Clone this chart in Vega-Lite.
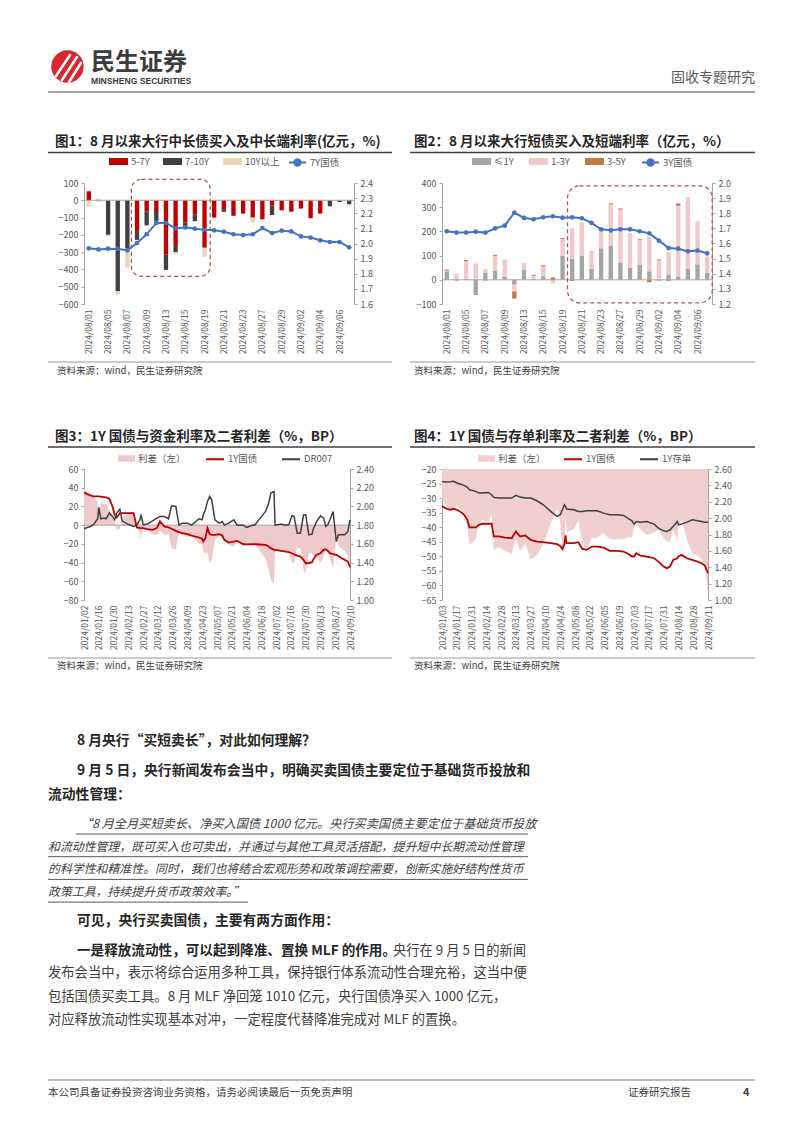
{
"$schema": "https://vega.github.io/schema/vega-lite/v6.json",
"background": "white",
"padding": 0,
"columns": 4,
"spacing": 0,
"bounds": "flush",
"align": "each",
"config": {
  "view": {"stroke": null},
  "font": "Noto Sans CJK SC",
  "axis": {"labelColor": "#595959", "labelFontSize": 9, "domainColor": "#A6A6A6", "tickColor": "#A6A6A6", "tickSize": 3, "grid": false, "labelPadding": 3, "labelFont": "Noto Sans CJK SC", "labelOverlap": false},
  "legend": {"labelColor": "#595959", "labelFontSize": 9.5, "labelFont": "Noto Sans CJK SC", "labelLimit": 0},
  "text": {"font": "Noto Sans CJK SC"}
},
"datasets": {
  "f1b": [
    {"d":"2024/08/01","s":"5-7Y","v":52,"k":1},{"d":"2024/08/01","s":"10Y以上","v":-35,"k":3},
    {"d":"2024/08/02","s":"7-10Y","v":3,"k":2},{"d":"2024/08/02","s":"10Y以上","v":-10,"k":3},
    {"d":"2024/08/05","s":"7-10Y","v":-200,"k":2},{"d":"2024/08/05","s":"10Y以上","v":-7,"k":3},
    {"d":"2024/08/06","s":"7-10Y","v":-525,"k":2},{"d":"2024/08/06","s":"10Y以上","v":-20,"k":3},
    {"d":"2024/08/07","s":"7-10Y","v":-278,"k":2},{"d":"2024/08/07","s":"10Y以上","v":-111,"k":3},
    {"d":"2024/08/08","s":"5-7Y","v":-177,"k":1},{"d":"2024/08/08","s":"7-10Y","v":-52,"k":2},
    {"d":"2024/08/09","s":"5-7Y","v":-65,"k":1},{"d":"2024/08/09","s":"7-10Y","v":-80,"k":2},
    {"d":"2024/08/12","s":"5-7Y","v":-62,"k":1},{"d":"2024/08/12","s":"7-10Y","v":-58,"k":2},
    {"d":"2024/08/13","s":"5-7Y","v":-315,"k":1},{"d":"2024/08/13","s":"7-10Y","v":-88,"k":2},
    {"d":"2024/08/14","s":"5-7Y","v":-264,"k":1},{"d":"2024/08/14","s":"7-10Y","v":-35,"k":2},{"d":"2024/08/14","s":"10Y以上","v":-13,"k":3},
    {"d":"2024/08/15","s":"5-7Y","v":-128,"k":1},{"d":"2024/08/15","s":"7-10Y","v":-35,"k":2},{"d":"2024/08/15","s":"10Y以上","v":-8,"k":3},
    {"d":"2024/08/16","s":"5-7Y","v":-81,"k":1},{"d":"2024/08/16","s":"7-10Y","v":-40,"k":2},
    {"d":"2024/08/19","s":"5-7Y","v":-270,"k":1},{"d":"2024/08/19","s":"7-10Y","v":-5,"k":2},{"d":"2024/08/19","s":"10Y以上","v":-53,"k":3},
    {"d":"2024/08/20","s":"5-7Y","v":-100,"k":1},
    {"d":"2024/08/21","s":"5-7Y","v":-55,"k":1},{"d":"2024/08/21","s":"7-10Y","v":-12,"k":2},
    {"d":"2024/08/22","s":"5-7Y","v":-90,"k":1},
    {"d":"2024/08/23","s":"5-7Y","v":-77,"k":1},
    {"d":"2024/08/26","s":"5-7Y","v":-100,"k":1},{"d":"2024/08/26","s":"10Y以上","v":-29,"k":3},
    {"d":"2024/08/27","s":"5-7Y","v":-110,"k":1},
    {"d":"2024/08/28","s":"5-7Y","v":-30,"k":1},{"d":"2024/08/28","s":"7-10Y","v":-55,"k":2},
    {"d":"2024/08/29","s":"5-7Y","v":-58,"k":1},
    {"d":"2024/08/30","s":"5-7Y","v":-66,"k":1},
    {"d":"2024/09/02","s":"5-7Y","v":-48,"k":1},
    {"d":"2024/09/03","s":"5-7Y","v":-104,"k":1},
    {"d":"2024/09/04","s":"5-7Y","v":-77,"k":1},
    {"d":"2024/09/05","s":"7-10Y","v":-35,"k":2},
    {"d":"2024/09/06","s":"7-10Y","v":-10,"k":2},
    {"d":"2024/09/09","s":"7-10Y","v":-23,"k":2},{"d":"2024/09/09","s":"10Y以上","v":-8,"k":3}
  ],
  "f1l": [
    {"d":"2024/08/01","r":1.968},{"d":"2024/08/02","r":1.961},{"d":"2024/08/05","r":1.966},{"d":"2024/08/06","r":1.964},
    {"d":"2024/08/07","r":1.955},{"d":"2024/08/08","r":2.003},{"d":"2024/08/09","r":2.061},{"d":"2024/08/12","r":2.136},
    {"d":"2024/08/13","r":2.136},{"d":"2024/08/14","r":2.100},{"d":"2024/08/15","r":2.107},{"d":"2024/08/16","r":2.098},
    {"d":"2024/08/19","r":2.091},{"d":"2024/08/20","r":2.087},{"d":"2024/08/21","r":2.078},{"d":"2024/08/22","r":2.061},
    {"d":"2024/08/23","r":2.056},{"d":"2024/08/26","r":2.061},{"d":"2024/08/27","r":2.102},{"d":"2024/08/28","r":2.069},
    {"d":"2024/08/29","r":2.085},{"d":"2024/08/30","r":2.080},{"d":"2024/09/02","r":2.047},{"d":"2024/09/03","r":2.039},
    {"d":"2024/09/04","r":2.021},{"d":"2024/09/05","r":2.010},{"d":"2024/09/06","r":2.010},{"d":"2024/09/09","r":1.975}
  ],
  "f2b": [
    {"d":"2024/08/01","s":"≤1Y","v":34,"k":1},{"d":"2024/08/01","s":"1-3Y","v":3,"k":2},{"d":"2024/08/01","s":"3-5Y","v":5,"k":3},
    {"d":"2024/08/02","s":"1-3Y","v":25,"k":2},{"d":"2024/08/02","s":"3-5Y","v":-3,"k":3},
    {"d":"2024/08/05","s":"≤1Y","v":5,"k":1},{"d":"2024/08/05","s":"1-3Y","v":72,"k":2},{"d":"2024/08/05","s":"3-5Y","v":5,"k":3},
    {"d":"2024/08/06","s":"≤1Y","v":-57,"k":1},{"d":"2024/08/06","s":"1-3Y","v":68,"k":2},{"d":"2024/08/06","s":"3-5Y","v":-5,"k":3},
    {"d":"2024/08/07","s":"≤1Y","v":28,"k":1},{"d":"2024/08/07","s":"1-3Y","v":17,"k":2},{"d":"2024/08/07","s":"3-5Y","v":-3,"k":3},
    {"d":"2024/08/08","s":"≤1Y","v":38,"k":1},{"d":"2024/08/08","s":"1-3Y","v":61,"k":2},{"d":"2024/08/08","s":"3-5Y","v":4,"k":3},
    {"d":"2024/08/09","s":"≤1Y","v":14,"k":1},{"d":"2024/08/09","s":"1-3Y","v":70,"k":2},
    {"d":"2024/08/12","s":"≤1Y","v":-20,"k":1},{"d":"2024/08/12","s":"1-3Y","v":-28,"k":2},{"d":"2024/08/12","s":"3-5Y","v":-30,"k":3},
    {"d":"2024/08/13","s":"≤1Y","v":43,"k":1},{"d":"2024/08/13","s":"1-3Y","v":26,"k":2},
    {"d":"2024/08/14","s":"≤1Y","v":3,"k":1},{"d":"2024/08/14","s":"1-3Y","v":14,"k":2},{"d":"2024/08/14","s":"3-5Y","v":4,"k":3},
    {"d":"2024/08/15","s":"≤1Y","v":15,"k":1},{"d":"2024/08/15","s":"1-3Y","v":40,"k":2},{"d":"2024/08/15","s":"3-5Y","v":5,"k":3},
    {"d":"2024/08/16","s":"≤1Y","v":-3,"k":1},{"d":"2024/08/16","s":"1-3Y","v":-12,"k":2},{"d":"2024/08/16","s":"3-5Y","v":10,"k":3},
    {"d":"2024/08/19","s":"≤1Y","v":100,"k":1},{"d":"2024/08/19","s":"1-3Y","v":68,"k":2},{"d":"2024/08/19","s":"3-5Y","v":4,"k":3},
    {"d":"2024/08/20","s":"≤1Y","v":87,"k":1},{"d":"2024/08/20","s":"1-3Y","v":125,"k":2},{"d":"2024/08/20","s":"3-5Y","v":-5,"k":3},
    {"d":"2024/08/21","s":"≤1Y","v":100,"k":1},{"d":"2024/08/21","s":"1-3Y","v":137,"k":2},
    {"d":"2024/08/22","s":"≤1Y","v":45,"k":1},{"d":"2024/08/22","s":"1-3Y","v":75,"k":2},
    {"d":"2024/08/23","s":"≤1Y","v":130,"k":1},{"d":"2024/08/23","s":"1-3Y","v":75,"k":2},
    {"d":"2024/08/26","s":"≤1Y","v":142,"k":1},{"d":"2024/08/26","s":"1-3Y","v":170,"k":2},{"d":"2024/08/26","s":"3-5Y","v":4,"k":3},
    {"d":"2024/08/27","s":"≤1Y","v":72,"k":1},{"d":"2024/08/27","s":"1-3Y","v":218,"k":2},{"d":"2024/08/27","s":"3-5Y","v":5,"k":3},
    {"d":"2024/08/28","s":"≤1Y","v":49,"k":1},{"d":"2024/08/28","s":"1-3Y","v":145,"k":2},
    {"d":"2024/08/29","s":"≤1Y","v":63,"k":1},{"d":"2024/08/29","s":"1-3Y","v":101,"k":2},{"d":"2024/08/29","s":"3-5Y","v":4,"k":3},
    {"d":"2024/08/30","s":"≤1Y","v":35,"k":1},{"d":"2024/08/30","s":"1-3Y","v":143,"k":2},{"d":"2024/08/30","s":"3-5Y","v":-10,"k":3},
    {"d":"2024/09/02","s":"≤1Y","v":-4,"k":1},{"d":"2024/09/02","s":"1-3Y","v":80,"k":2},{"d":"2024/09/02","s":"3-5Y","v":4,"k":3},
    {"d":"2024/09/03","s":"≤1Y","v":22,"k":1},{"d":"2024/09/03","s":"1-3Y","v":94,"k":2},{"d":"2024/09/03","s":"3-5Y","v":-4,"k":3},
    {"d":"2024/09/04","s":"≤1Y","v":12,"k":1},{"d":"2024/09/04","s":"1-3Y","v":294,"k":2},{"d":"2024/09/04","s":"3-5Y","v":10,"k":3},
    {"d":"2024/09/05","s":"≤1Y","v":47,"k":1},{"d":"2024/09/05","s":"1-3Y","v":295,"k":2},
    {"d":"2024/09/06","s":"≤1Y","v":64,"k":1},{"d":"2024/09/06","s":"1-3Y","v":177,"k":2},
    {"d":"2024/09/09","s":"≤1Y","v":28,"k":1},{"d":"2024/09/09","s":"1-3Y","v":68,"k":2}
  ],
  "f2l": [
    {"d":"2024/08/01","r":1.681},{"d":"2024/08/02","r":1.672},{"d":"2024/08/05","r":1.672},{"d":"2024/08/06","r":1.678},
    {"d":"2024/08/07","r":1.672},{"d":"2024/08/08","r":1.700},{"d":"2024/08/09","r":1.718},{"d":"2024/08/12","r":1.804},
    {"d":"2024/08/13","r":1.769},{"d":"2024/08/14","r":1.760},{"d":"2024/08/15","r":1.773},{"d":"2024/08/16","r":1.780},
    {"d":"2024/08/19","r":1.771},{"d":"2024/08/20","r":1.773},{"d":"2024/08/21","r":1.767},{"d":"2024/08/22","r":1.736},
    {"d":"2024/08/23","r":1.694},{"d":"2024/08/26","r":1.687},{"d":"2024/08/27","r":1.694},{"d":"2024/08/28","r":1.694},
    {"d":"2024/08/29","r":1.681},{"d":"2024/08/30","r":1.667},{"d":"2024/09/02","r":1.619},{"d":"2024/09/03","r":1.570},
    {"d":"2024/09/04","r":1.566},{"d":"2024/09/05","r":1.548},{"d":"2024/09/06","r":1.553},{"d":"2024/09/09","r":1.535}
  ],
  "f3": [
    {"d":"2024-01-02","a":2.150,"b":1.761,"sp":38.9},{"d":"2024-01-05","a":2.132,"b":1.775,"sp":35.7},
    {"d":"2024-01-08","a":2.118,"b":1.786,"sp":33.2},{"d":"2024-01-11","a":2.107,"b":1.804,"sp":30.3},
    {"d":"2024-01-15","a":2.107,"b":1.868,"sp":23.9},{"d":"2024-01-16","a":2.107,"b":1.989,"sp":11.8},
    {"d":"2024-01-18","a":2.104,"b":1.868,"sp":23.6},{"d":"2024-01-21","a":2.100,"b":1.875,"sp":22.5},
    {"d":"2024-01-23","a":2.096,"b":1.868,"sp":22.8},{"d":"2024-01-26","a":2.082,"b":1.929,"sp":15.3},
    {"d":"2024-01-29","a":2.000,"b":1.893,"sp":10.7},{"d":"2024-01-31","a":1.911,"b":1.857,"sp":5.4},
    {"d":"2024-02-02","a":1.882,"b":1.929,"sp":-4.7},{"d":"2024-02-05","a":1.929,"b":1.971,"sp":-4.2},
    {"d":"2024-02-07","a":1.929,"b":1.846,"sp":8.3},{"d":"2024-02-12","a":1.929,"b":1.814,"sp":11.5},
    {"d":"2024-02-18","a":1.929,"b":1.786,"sp":14.3},{"d":"2024-02-21","a":1.775,"b":1.800,"sp":-2.5},
    {"d":"2024-02-24","a":1.768,"b":1.857,"sp":-8.9},{"d":"2024-02-25","a":1.768,"b":1.911,"sp":-14.3},
    {"d":"2024-02-27","a":1.768,"b":1.804,"sp":-3.6},{"d":"2024-03-02","a":1.757,"b":1.811,"sp":-5.4},
    {"d":"2024-03-07","a":1.750,"b":1.846,"sp":-9.6},{"d":"2024-03-11","a":1.768,"b":1.875,"sp":-10.7},
    {"d":"2024-03-14","a":1.839,"b":1.893,"sp":-5.4},{"d":"2024-03-18","a":1.786,"b":1.893,"sp":-10.7},
    {"d":"2024-03-22","a":1.775,"b":1.868,"sp":-9.3},{"d":"2024-03-25","a":1.761,"b":2.007,"sp":-24.6},
    {"d":"2024-03-29","a":1.739,"b":2.000,"sp":-26.1},{"d":"2024-04-01","a":1.725,"b":1.800,"sp":-7.5},
    {"d":"2024-04-04","a":1.714,"b":1.821,"sp":-10.7},{"d":"2024-04-09","a":1.704,"b":1.821,"sp":-11.7},
    {"d":"2024-04-13","a":1.689,"b":1.800,"sp":-11.1},{"d":"2024-04-20","a":1.668,"b":1.868,"sp":-20.0},
    {"d":"2024-04-23","a":1.654,"b":1.857,"sp":-20.3},{"d":"2024-04-24","a":1.625,"b":1.911,"sp":-28.6},
    {"d":"2024-04-26","a":1.661,"b":1.964,"sp":-30.3},{"d":"2024-04-28","a":1.768,"b":2.054,"sp":-28.6},
    {"d":"2024-04-30","a":1.704,"b":2.107,"sp":-40.3},{"d":"2024-05-02","a":1.696,"b":2.071,"sp":-37.5},
    {"d":"2024-05-05","a":1.696,"b":1.857,"sp":-16.1},{"d":"2024-05-09","a":1.704,"b":1.821,"sp":-11.7},
    {"d":"2024-05-12","a":1.689,"b":1.839,"sp":-15.0},{"d":"2024-05-14","a":1.643,"b":1.800,"sp":-15.7},
    {"d":"2024-05-18","a":1.614,"b":1.821,"sp":-20.7},{"d":"2024-05-23","a":1.625,"b":1.857,"sp":-23.2},
    {"d":"2024-05-26","a":1.632,"b":1.800,"sp":-16.8},{"d":"2024-06-01","a":1.596,"b":1.800,"sp":-20.4},
    {"d":"2024-06-04","a":1.596,"b":1.775,"sp":-17.9},{"d":"2024-06-09","a":1.596,"b":1.796,"sp":-20.0},
    {"d":"2024-06-12","a":1.596,"b":1.804,"sp":-20.8},{"d":"2024-06-17","a":1.593,"b":1.875,"sp":-28.2},
    {"d":"2024-06-22","a":1.589,"b":1.946,"sp":-35.7},{"d":"2024-06-25","a":1.571,"b":2.036,"sp":-46.5},
    {"d":"2024-06-27","a":1.554,"b":2.143,"sp":-58.9},{"d":"2024-06-30","a":1.536,"b":2.161,"sp":-62.5},
    {"d":"2024-07-01","a":1.536,"b":1.800,"sp":-26.4},{"d":"2024-07-07","a":1.525,"b":1.811,"sp":-28.6},
    {"d":"2024-07-11","a":1.518,"b":1.800,"sp":-28.2},{"d":"2024-07-14","a":1.511,"b":1.804,"sp":-29.3},
    {"d":"2024-07-17","a":1.500,"b":1.900,"sp":-40.0},{"d":"2024-07-19","a":1.489,"b":1.893,"sp":-40.4},
    {"d":"2024-07-22","a":1.475,"b":1.714,"sp":-23.9},{"d":"2024-07-25","a":1.464,"b":1.714,"sp":-25.0},
    {"d":"2024-07-28","a":1.429,"b":1.911,"sp":-48.2},{"d":"2024-07-30","a":1.393,"b":1.911,"sp":-51.8},
    {"d":"2024-08-02","a":1.393,"b":1.696,"sp":-30.3},{"d":"2024-08-05","a":1.404,"b":1.704,"sp":-30.0},
    {"d":"2024-08-06","a":1.429,"b":1.750,"sp":-32.1},{"d":"2024-08-09","a":1.482,"b":1.829,"sp":-34.7},
    {"d":"2024-08-13","a":1.500,"b":1.900,"sp":-40.0},{"d":"2024-08-16","a":1.536,"b":1.875,"sp":-33.9},
    {"d":"2024-08-18","a":1.543,"b":1.786,"sp":-24.3},{"d":"2024-08-20","a":1.525,"b":1.804,"sp":-27.9},
    {"d":"2024-08-22","a":1.500,"b":1.857,"sp":-35.7},{"d":"2024-08-25","a":1.489,"b":1.946,"sp":-45.7},
    {"d":"2024-08-28","a":1.482,"b":1.625,"sp":-14.3},{"d":"2024-08-30","a":1.471,"b":1.696,"sp":-22.5},
    {"d":"2024-09-02","a":1.446,"b":1.696,"sp":-25.0},{"d":"2024-09-05","a":1.429,"b":1.696,"sp":-26.7},
    {"d":"2024-09-08","a":1.411,"b":1.732,"sp":-32.1},{"d":"2024-09-10","a":1.350,"b":1.857,"sp":-50.7}
  ],
  "f4": [
    {"d":"2024-01-03","a":2.151,"b":2.449,"sp":-29.8},{"d":"2024-01-06","a":2.122,"b":2.441,"sp":-31.9},
    {"d":"2024-01-11","a":2.102,"b":2.445,"sp":-34.3},{"d":"2024-01-14","a":2.114,"b":2.449,"sp":-33.5},
    {"d":"2024-01-17","a":2.102,"b":2.429,"sp":-32.7},{"d":"2024-01-20","a":2.082,"b":2.416,"sp":-33.4},
    {"d":"2024-01-24","a":2.041,"b":2.400,"sp":-35.9},{"d":"2024-01-27","a":1.980,"b":2.376,"sp":-39.6},
    {"d":"2024-01-29","a":1.886,"b":2.347,"sp":-46.1},{"d":"2024-02-04","a":1.886,"b":2.327,"sp":-44.1},
    {"d":"2024-02-07","a":1.918,"b":2.306,"sp":-38.8},{"d":"2024-02-10","a":1.931,"b":2.306,"sp":-37.5},
    {"d":"2024-02-16","a":1.931,"b":2.314,"sp":-38.3},{"d":"2024-02-19","a":1.931,"b":2.286,"sp":-35.5},
    {"d":"2024-02-21","a":1.776,"b":2.253,"sp":-47.7},{"d":"2024-02-26","a":1.776,"b":2.245,"sp":-46.9},
    {"d":"2024-03-03","a":1.763,"b":2.245,"sp":-48.2},{"d":"2024-03-09","a":1.755,"b":2.245,"sp":-49.0},
    {"d":"2024-03-13","a":1.837,"b":2.278,"sp":-44.1},{"d":"2024-03-17","a":1.776,"b":2.257,"sp":-48.1},
    {"d":"2024-03-22","a":1.788,"b":2.245,"sp":-45.7},{"d":"2024-03-27","a":1.735,"b":2.245,"sp":-51.0},
    {"d":"2024-04-02","a":1.714,"b":2.212,"sp":-49.8},{"d":"2024-04-08","a":1.706,"b":2.163,"sp":-45.7},
    {"d":"2024-04-15","a":1.694,"b":2.082,"sp":-38.8},{"d":"2024-04-21","a":1.682,"b":2.020,"sp":-33.8},
    {"d":"2024-04-24","a":1.661,"b":2.041,"sp":-38.0},{"d":"2024-04-26","a":1.624,"b":2.102,"sp":-47.8},
    {"d":"2024-04-28","a":1.682,"b":2.163,"sp":-48.1},{"d":"2024-04-29","a":1.788,"b":2.143,"sp":-35.5},
    {"d":"2024-04-30","a":1.694,"b":2.110,"sp":-41.6},{"d":"2024-05-07","a":1.694,"b":2.102,"sp":-40.8},
    {"d":"2024-05-11","a":1.706,"b":2.082,"sp":-37.6},{"d":"2024-05-15","a":1.624,"b":2.082,"sp":-45.8},
    {"d":"2024-05-19","a":1.612,"b":2.090,"sp":-47.8},{"d":"2024-05-24","a":1.653,"b":2.090,"sp":-43.7},
    {"d":"2024-05-29","a":1.653,"b":2.090,"sp":-43.7},{"d":"2024-06-04","a":1.641,"b":2.061,"sp":-42.0},
    {"d":"2024-06-10","a":1.600,"b":2.041,"sp":-44.1},{"d":"2024-06-17","a":1.600,"b":2.041,"sp":-44.1},
    {"d":"2024-06-23","a":1.592,"b":2.033,"sp":-44.1},{"d":"2024-06-28","a":1.559,"b":1.992,"sp":-43.3},
    {"d":"2024-07-01","a":1.531,"b":1.967,"sp":-43.6},{"d":"2024-07-03","a":1.531,"b":1.927,"sp":-39.6},
    {"d":"2024-07-05","a":1.571,"b":1.959,"sp":-38.8},{"d":"2024-07-09","a":1.543,"b":1.951,"sp":-40.8},
    {"d":"2024-07-15","a":1.531,"b":1.959,"sp":-42.8},{"d":"2024-07-22","a":1.510,"b":1.927,"sp":-41.7},
    {"d":"2024-07-26","a":1.469,"b":1.878,"sp":-40.9},{"d":"2024-07-31","a":1.408,"b":1.845,"sp":-43.7},
    {"d":"2024-08-03","a":1.388,"b":1.837,"sp":-44.9},{"d":"2024-08-06","a":1.408,"b":1.857,"sp":-44.9},
    {"d":"2024-08-09","a":1.490,"b":1.898,"sp":-40.8},{"d":"2024-08-13","a":1.510,"b":1.959,"sp":-44.9},
    {"d":"2024-08-14","a":1.531,"b":1.918,"sp":-38.7},{"d":"2024-08-17","a":1.551,"b":1.927,"sp":-37.6},
    {"d":"2024-08-22","a":1.510,"b":1.951,"sp":-44.1},{"d":"2024-08-27","a":1.490,"b":1.980,"sp":-49.0},
    {"d":"2024-09-01","a":1.469,"b":1.967,"sp":-49.8},{"d":"2024-09-05","a":1.449,"b":1.959,"sp":-51.0},
    {"d":"2024-09-08","a":1.420,"b":1.951,"sp":-53.1},{"d":"2024-09-11","a":1.327,"b":1.951,"sp":-62.4}
  ]
},
"concat": [
  {
    "width": 84, "height": 183,
    "layer": [
      {"data": {"values": [{}]}, "mark": {"type": "point", "filled": true, "color": "#D9272E", "opacity": 1, "size": 1050}, "encoding": {"x": {"value": 67.5}, "y": {"value": 66.5}}},
      {"data": {"values": [{}]}, "mark": {"type": "rule", "color": "white", "strokeWidth": 2.5, "strokeCap": "round"}, "encoding": {"x": {"value": 56}, "y": {"value": 76}, "x2": {"value": 70}, "y2": {"value": 55}}},
      {"data": {"values": [{}]}, "mark": {"type": "rule", "color": "white", "strokeWidth": 2.5, "strokeCap": "round"}, "encoding": {"x": {"value": 62}, "y": {"value": 80}, "x2": {"value": 77}, "y2": {"value": 57}}},
      {"data": {"values": [{}]}, "mark": {"type": "rule", "color": "white", "strokeWidth": 2.5, "strokeCap": "round"}, "encoding": {"x": {"value": 69}, "y": {"value": 82}, "x2": {"value": 81}, "y2": {"value": 63}}},
      {"data": {"values": [{"t": "民生证券"}]}, "mark": {"type": "text", "align": "left", "baseline": "middle", "fontSize": 24, "fontWeight": "bold", "color": "#3C3C3C"}, "encoding": {"text": {"field": "t"}, "x": {"value": 91}, "y": {"value": 63}}},
      {"data": {"values": [{"t": "MINSHENG SECURITIES"}]}, "mark": {"type": "text", "align": "left", "baseline": "middle", "fontSize": 8.6, "fontWeight": "bold", "font": "Liberation Sans", "color": "#3C3C3C"}, "encoding": {"text": {"field": "t"}, "x": {"value": 91}, "y": {"value": 81}}},
      {"data": {"values": [{"t": "固收专题研究"}]}, "mark": {"type": "text", "align": "right", "baseline": "middle", "fontSize": 14, "color": "#595959"}, "encoding": {"text": {"field": "t"}, "x": {"value": 755}, "y": {"value": 77.5}}},
      {"data": {"values": [{}]}, "mark": {"type": "rule", "color": "#A6A6A6", "strokeWidth": 2}, "encoding": {"x": {"value": 48}, "x2": {"value": 755}, "y": {"value": 92}}},
      {"data": {"values": [{"t": "图1：8 月以来大行中长债买入及中长端利率(亿元，%)"}]}, "mark": {"type": "text", "align": "left", "baseline": "middle", "fontSize": 13.5, "fontWeight": "bold", "color": "#262626"}, "encoding": {"text": {"field": "t"}, "x": {"value": 55}, "y": {"value": 142}}},
      {"data": {"values": [{"t": "图2：8 月以来大行短债买入及短端利率（亿元，%）"}]}, "mark": {"type": "text", "align": "left", "baseline": "middle", "fontSize": 13.5, "fontWeight": "bold", "color": "#262626"}, "encoding": {"text": {"field": "t"}, "x": {"value": 414}, "y": {"value": 142}}},
      {"data": {"values": [{}]}, "mark": {"type": "rule", "color": "#3F3F3F", "strokeWidth": 1.5}, "encoding": {"x": {"value": 48}, "x2": {"value": 392}, "y": {"value": 152.5}}},
      {"data": {"values": [{}]}, "mark": {"type": "rule", "color": "#3F3F3F", "strokeWidth": 1.5}, "encoding": {"x": {"value": 410}, "x2": {"value": 755}, "y": {"value": 152.5}}}
    ]
  },
  {"width": 1, "height": 1, "data": {"values": [{"t": ""}]}, "mark": {"type": "text", "fontSize": 0}, "encoding": {"text": {"field": "t"}}},
  {"width": 1, "height": 1, "data": {"values": [{"t": ""}]}, "mark": {"type": "text", "fontSize": 0}, "encoding": {"text": {"field": "t"}}},
  {"width": 1, "height": 1, "data": {"values": [{"t": ""}]}, "mark": {"type": "text", "fontSize": 0}, "encoding": {"text": {"field": "t"}}},

  {"width": 84, "height": 1, "data": {"values": [{"t": ""}]}, "mark": {"type": "text", "fontSize": 0}, "encoding": {"text": {"field": "t"}}},
  {
    "width": 270, "height": 121,
    "resolve": {"scale": {"y": "independent", "color": "independent"}},
    "layer": [
      {"layer": [
        {"data": {"name": "f1b"}, "mark": {"type": "bar"},
         "encoding": {
           "x": {"field": "d", "type": "ordinal", "title": null, "scale": {"paddingInner": 0.55, "paddingOuter": 0.275},
                 "axis": {"values": ["2024/08/01","2024/08/05","2024/08/07","2024/08/09","2024/08/13","2024/08/15","2024/08/19","2024/08/21","2024/08/23","2024/08/27","2024/08/29","2024/09/02","2024/09/04","2024/09/06"], "labelAngle": -90, "domain": false, "ticks": false, "labelFontSize": 8.5, "labelPadding": 5, "labelOverlap": false}},
           "y": {"field": "v", "type": "quantitative", "stack": "zero", "title": null, "scale": {"domain": [-600, 100], "nice": false}, "axis": {"orient": "left", "values": [-600,-500,-400,-300,-200,-100,0,100], "labelOverlap": false}},
           "color": {"field": "s", "type": "nominal", "scale": {"domain": ["5-7Y","7-10Y","10Y以上"], "range": ["#C00000","#404040","#E9D6B4"]},
                     "legend": {"orient": "none", "legendX": 25, "legendY": -31, "direction": "horizontal", "title": null, "symbolType": "M-1,-0.37L1,-0.37L1,0.37L-1,0.37Z", "symbolSize": 361, "symbolStrokeWidth": 0, "columnPadding": 13, "labelOffset": 3}},
           "order": {"field": "k", "type": "quantitative"}
         }},
        {"data": {"values": [{}]}, "mark": {"type": "rule", "color": "#A6A6A6", "strokeWidth": 1},
         "encoding": {"y": {"datum": 0, "type": "quantitative", "title": null, "axis": {"orient": "left", "values": [-600,-500,-400,-300,-200,-100,0,100], "labelOverlap": false}}}},
        {"data": {"values": [{}]}, "mark": {"type": "rect", "filled": false, "stroke": "#B0504E", "strokeWidth": 1.2, "strokeDash": [4, 3], "cornerRadius": 10, "xOffset": 4, "x2Offset": -4},
         "encoding": {
           "x": {"datum": "2024/08/07", "type": "ordinal", "title": null, "axis": {"values": ["2024/08/01","2024/08/05","2024/08/07","2024/08/09","2024/08/13","2024/08/15","2024/08/19","2024/08/21","2024/08/23","2024/08/27","2024/08/29","2024/09/02","2024/09/04","2024/09/06"], "labelAngle": -90, "domain": false, "ticks": false, "labelFontSize": 8.5, "labelPadding": 5, "labelOverlap": false}},
           "x2": {"datum": "2024/08/20"},
           "y": {"datum": 121, "type": "quantitative", "title": null, "axis": {"orient": "left", "values": [-600,-500,-400,-300,-200,-100,0,100], "labelOverlap": false}},
           "y2": {"datum": -440}}}
      ]},
      {"data": {"name": "f1l"}, "mark": {"type": "line", "strokeWidth": 2, "point": {"filled": true, "size": 22}},
       "encoding": {
         "x": {"field": "d", "type": "ordinal", "title": null, "axis": {"values": ["2024/08/01","2024/08/05","2024/08/07","2024/08/09","2024/08/13","2024/08/15","2024/08/19","2024/08/21","2024/08/23","2024/08/27","2024/08/29","2024/09/02","2024/09/04","2024/09/06"], "labelAngle": -90, "domain": false, "ticks": false, "labelFontSize": 8.5, "labelPadding": 5, "labelOverlap": false}},
         "y": {"field": "r", "type": "quantitative", "title": null, "scale": {"domain": [1.6, 2.4], "nice": false, "zero": false}, "axis": {"orient": "right", "values": [1.6,1.7,1.8,1.9,2.0,2.1,2.2,2.3,2.4], "format": ".1f", "labelOverlap": false}},
         "color": {"datum": "7Y国债", "type": "nominal", "scale": {"range": ["#4472C4"]},
                   "legend": {"orient": "none", "legendX": 204, "legendY": -30, "direction": "horizontal", "title": null, "symbolType": "M-1,0L1,0M0.38,0A0.38,0.38,0,1,1,-0.38,0A0.38,0.38,0,1,1,0.38,0", "symbolSize": 289, "symbolStrokeWidth": 2, "labelOffset": 3, "encode": {"symbols": {"update": {"fill": {"value": "#4472C4"}, "stroke": {"value": "#4472C4"}}}}}}
       }}
    ]
  },
  {"width": 88, "height": 1, "data": {"values": [{"t": ""}]}, "mark": {"type": "text", "fontSize": 0}, "encoding": {"text": {"field": "t"}}},
  {
    "width": 270, "height": 121,
    "resolve": {"scale": {"y": "independent", "color": "independent"}},
    "layer": [
      {"layer": [
        {"data": {"name": "f2b"}, "mark": {"type": "bar"},
         "encoding": {
           "x": {"field": "d", "type": "ordinal", "title": null, "scale": {"paddingInner": 0.55, "paddingOuter": 0.275},
                 "axis": {"values": ["2024/08/01","2024/08/05","2024/08/07","2024/08/09","2024/08/13","2024/08/15","2024/08/19","2024/08/21","2024/08/23","2024/08/27","2024/08/29","2024/09/02","2024/09/04","2024/09/06"], "labelAngle": -90, "domain": false, "ticks": false, "labelFontSize": 8.5, "labelPadding": 5, "labelOverlap": false}},
           "y": {"field": "v", "type": "quantitative", "stack": "zero", "title": null, "scale": {"domain": [-100, 400], "nice": false}, "axis": {"orient": "left", "values": [-100,0,100,200,300,400], "labelOverlap": false}},
           "color": {"field": "s", "type": "nominal", "scale": {"domain": ["≤1Y","1-3Y","3-5Y"], "range": ["#A5A5A5","#F2C8C8","#C27A45"]},
                     "legend": {"orient": "none", "legendX": 30, "legendY": -31, "direction": "horizontal", "title": null, "symbolType": "M-1,-0.37L1,-0.37L1,0.37L-1,0.37Z", "symbolSize": 361, "symbolStrokeWidth": 0, "columnPadding": 15, "labelOffset": 3}},
           "order": {"field": "k", "type": "quantitative"}
         }},
        {"data": {"values": [{}]}, "mark": {"type": "rule", "color": "#A6A6A6", "strokeWidth": 1},
         "encoding": {"y": {"datum": 0, "type": "quantitative", "title": null, "axis": {"orient": "left", "values": [-100,0,100,200,300,400], "labelOverlap": false}}}},
        {"data": {"values": [{}]}, "mark": {"type": "rect", "filled": false, "stroke": "#B0504E", "strokeWidth": 1.2, "strokeDash": [4, 3], "cornerRadius": 12, "xOffset": 5, "x2Offset": 5},
         "encoding": {
           "x": {"datum": "2024/08/19", "type": "ordinal", "title": null, "axis": {"values": ["2024/08/01","2024/08/05","2024/08/07","2024/08/09","2024/08/13","2024/08/15","2024/08/19","2024/08/21","2024/08/23","2024/08/27","2024/08/29","2024/09/02","2024/09/04","2024/09/06"], "labelAngle": -90, "domain": false, "ticks": false, "labelFontSize": 8.5, "labelPadding": 5, "labelOverlap": false}},
           "x2": {"datum": "2024/09/09"},
           "y": {"datum": 388, "type": "quantitative", "title": null, "axis": {"orient": "left", "values": [-100,0,100,200,300,400], "labelOverlap": false}},
           "y2": {"datum": -95}}}
      ]},
      {"data": {"name": "f2l"}, "mark": {"type": "line", "strokeWidth": 2, "point": {"filled": true, "size": 22}},
       "encoding": {
         "x": {"field": "d", "type": "ordinal", "title": null, "axis": {"values": ["2024/08/01","2024/08/05","2024/08/07","2024/08/09","2024/08/13","2024/08/15","2024/08/19","2024/08/21","2024/08/23","2024/08/27","2024/08/29","2024/09/02","2024/09/04","2024/09/06"], "labelAngle": -90, "domain": false, "ticks": false, "labelFontSize": 8.5, "labelPadding": 5, "labelOverlap": false}},
         "y": {"field": "r", "type": "quantitative", "title": null, "scale": {"domain": [1.2, 2.0], "nice": false, "zero": false}, "axis": {"orient": "right", "values": [1.2,1.3,1.4,1.5,1.6,1.7,1.8,1.9,2.0], "format": ".1f", "labelOverlap": false}},
         "color": {"datum": "3Y国债", "type": "nominal", "scale": {"range": ["#4472C4"]},
                   "legend": {"orient": "none", "legendX": 199, "legendY": -30, "direction": "horizontal", "title": null, "symbolType": "M-1,0L1,0M0.38,0A0.38,0.38,0,1,1,-0.38,0A0.38,0.38,0,1,1,0.38,0", "symbolSize": 289, "symbolStrokeWidth": 2, "labelOffset": 3, "encode": {"symbols": {"update": {"fill": {"value": "#4472C4"}, "stroke": {"value": "#4472C4"}}}}}}
       }}
    ]
  },

  {
    "width": 84, "height": 165,
    "layer": [
      {"data": {"values": [{}]}, "mark": {"type": "rule", "color": "#7F7F7F", "strokeWidth": 0.8}, "encoding": {"x": {"value": 48}, "x2": {"value": 392}, "y": {"value": 58}}},
      {"data": {"values": [{}]}, "mark": {"type": "rule", "color": "#7F7F7F", "strokeWidth": 0.8}, "encoding": {"x": {"value": 410}, "x2": {"value": 755}, "y": {"value": 58}}},
      {"data": {"values": [{"t": "资料来源：wind，民生证券研究院"}]}, "mark": {"type": "text", "align": "left", "baseline": "middle", "fontSize": 9.5, "color": "#404040"}, "encoding": {"text": {"field": "t"}, "x": {"value": 57}, "y": {"value": 67}}},
      {"data": {"values": [{"t": "资料来源：wind，民生证券研究院"}]}, "mark": {"type": "text", "align": "left", "baseline": "middle", "fontSize": 9.5, "color": "#404040"}, "encoding": {"text": {"field": "t"}, "x": {"value": 414}, "y": {"value": 67}}},
      {"data": {"values": [{"t": "图3：1Y 国债与资金利率及二者利差（%，BP）"}]}, "mark": {"type": "text", "align": "left", "baseline": "middle", "fontSize": 13.5, "fontWeight": "bold", "color": "#262626"}, "encoding": {"text": {"field": "t"}, "x": {"value": 55}, "y": {"value": 133}}},
      {"data": {"values": [{"t": "图4：1Y 国债与存单利率及二者利差（%，BP）"}]}, "mark": {"type": "text", "align": "left", "baseline": "middle", "fontSize": 13.5, "fontWeight": "bold", "color": "#262626"}, "encoding": {"text": {"field": "t"}, "x": {"value": 414}, "y": {"value": 133}}},
      {"data": {"values": [{}]}, "mark": {"type": "rule", "color": "#3F3F3F", "strokeWidth": 1.5}, "encoding": {"x": {"value": 48}, "x2": {"value": 392}, "y": {"value": 143}}},
      {"data": {"values": [{}]}, "mark": {"type": "rule", "color": "#3F3F3F", "strokeWidth": 1.5}, "encoding": {"x": {"value": 410}, "x2": {"value": 755}, "y": {"value": 143}}}
    ]
  },
  {"width": 1, "height": 1, "data": {"values": [{"t": ""}]}, "mark": {"type": "text", "fontSize": 0}, "encoding": {"text": {"field": "t"}}},
  {"width": 1, "height": 1, "data": {"values": [{"t": ""}]}, "mark": {"type": "text", "fontSize": 0}, "encoding": {"text": {"field": "t"}}},
  {"width": 1, "height": 1, "data": {"values": [{"t": ""}]}, "mark": {"type": "text", "fontSize": 0}, "encoding": {"text": {"field": "t"}}},

  {"width": 84, "height": 1, "data": {"values": [{"t": ""}]}, "mark": {"type": "text", "fontSize": 0}, "encoding": {"text": {"field": "t"}}},
  {
    "width": 266, "height": 131,
    "resolve": {"scale": {"y": "independent", "color": "independent"}},
    "layer": [
      {"layer": [
        {"data": {"name": "f3"}, "mark": {"type": "area", "clip": true},
         "encoding": {
           "x": {"field": "d", "type": "temporal", "title": null,
                 "scale": {"type": "utc", "domain": [{"year":2024,"month":1,"date":2,"utc":true},{"year":2024,"month":9,"date":10,"utc":true}], "nice": false},
                 "axis": {"values": [{"year":2024,"month":1,"date":2,"utc":true},{"year":2024,"month":1,"date":16,"utc":true},{"year":2024,"month":1,"date":30,"utc":true},{"year":2024,"month":2,"date":13,"utc":true},{"year":2024,"month":2,"date":27,"utc":true},{"year":2024,"month":3,"date":12,"utc":true},{"year":2024,"month":3,"date":26,"utc":true},{"year":2024,"month":4,"date":9,"utc":true},{"year":2024,"month":4,"date":23,"utc":true},{"year":2024,"month":5,"date":7,"utc":true},{"year":2024,"month":5,"date":21,"utc":true},{"year":2024,"month":6,"date":4,"utc":true},{"year":2024,"month":6,"date":18,"utc":true},{"year":2024,"month":7,"date":2,"utc":true},{"year":2024,"month":7,"date":16,"utc":true},{"year":2024,"month":7,"date":30,"utc":true},{"year":2024,"month":8,"date":13,"utc":true},{"year":2024,"month":8,"date":27,"utc":true},{"year":2024,"month":9,"date":10,"utc":true}],
                          "format": "%Y/%m/%d", "labelAngle": -90, "domain": false, "ticks": false, "labelFontSize": 8.5, "labelPadding": 5, "labelOverlap": false, "labelFlush": false, "labelBound": false}},
           "y": {"field": "sp", "type": "quantitative", "title": null, "scale": {"domain": [-80, 60], "nice": false}, "axis": {"orient": "left", "values": [-80,-60,-40,-20,0,20,40,60], "labelOverlap": false}},
           "y2": {"datum": 0},
           "color": {"datum": "利差（左）", "type": "nominal", "scale": {"range": ["#EFCACA"]},
                     "legend": {"orient": "none", "legendX": 34, "legendY": -19, "direction": "horizontal", "title": null, "symbolType": "M-1,-0.38L1,-0.38L1,0.38L-1,0.38Z", "symbolSize": 289, "symbolStrokeWidth": 0, "labelOffset": 3}}
         }},
        {"data": {"values": [{}]}, "mark": {"type": "rule", "color": "#A6A6A6", "strokeWidth": 1},
         "encoding": {"y": {"datum": 0, "type": "quantitative", "title": null, "axis": {"orient": "left", "values": [-80,-60,-40,-20,0,20,40,60], "labelOverlap": false}}}}
      ]},
      {"layer": [
        {"data": {"name": "f3"}, "mark": {"type": "line", "strokeWidth": 1.8},
         "encoding": {
           "x": {"field": "d", "type": "temporal", "title": null,
                 "axis": {"values": [{"year":2024,"month":1,"date":2,"utc":true},{"year":2024,"month":1,"date":16,"utc":true},{"year":2024,"month":1,"date":30,"utc":true},{"year":2024,"month":2,"date":13,"utc":true},{"year":2024,"month":2,"date":27,"utc":true},{"year":2024,"month":3,"date":12,"utc":true},{"year":2024,"month":3,"date":26,"utc":true},{"year":2024,"month":4,"date":9,"utc":true},{"year":2024,"month":4,"date":23,"utc":true},{"year":2024,"month":5,"date":7,"utc":true},{"year":2024,"month":5,"date":21,"utc":true},{"year":2024,"month":6,"date":4,"utc":true},{"year":2024,"month":6,"date":18,"utc":true},{"year":2024,"month":7,"date":2,"utc":true},{"year":2024,"month":7,"date":16,"utc":true},{"year":2024,"month":7,"date":30,"utc":true},{"year":2024,"month":8,"date":13,"utc":true},{"year":2024,"month":8,"date":27,"utc":true},{"year":2024,"month":9,"date":10,"utc":true}],
                          "format": "%Y/%m/%d", "labelAngle": -90, "domain": false, "ticks": false, "labelFontSize": 8.5, "labelPadding": 5, "labelOverlap": false, "labelFlush": false, "labelBound": false}},
           "y": {"field": "a", "type": "quantitative", "title": null, "scale": {"domain": [1.0, 2.4], "nice": false, "zero": false}, "axis": {"orient": "right", "values": [1.0,1.2,1.4,1.6,1.8,2.0,2.2,2.4], "format": ".2f", "labelOverlap": false}},
           "color": {"datum": "1Y国债", "type": "nominal", "scale": {"domain": ["1Y国债","DR007"], "range": ["#C00000","#404040"]},
                     "legend": {"orient": "none", "legendX": 121, "legendY": -20, "direction": "horizontal", "title": null, "symbolType": "stroke", "symbolSize": 324, "symbolStrokeWidth": 2, "columnPadding": 20, "labelOffset": 3}}
         }},
        {"data": {"name": "f3"}, "mark": {"type": "line", "strokeWidth": 1.5},
         "encoding": {
           "x": {"field": "d", "type": "temporal", "title": null,
                 "axis": {"values": [{"year":2024,"month":1,"date":2,"utc":true},{"year":2024,"month":1,"date":16,"utc":true},{"year":2024,"month":1,"date":30,"utc":true},{"year":2024,"month":2,"date":13,"utc":true},{"year":2024,"month":2,"date":27,"utc":true},{"year":2024,"month":3,"date":12,"utc":true},{"year":2024,"month":3,"date":26,"utc":true},{"year":2024,"month":4,"date":9,"utc":true},{"year":2024,"month":4,"date":23,"utc":true},{"year":2024,"month":5,"date":7,"utc":true},{"year":2024,"month":5,"date":21,"utc":true},{"year":2024,"month":6,"date":4,"utc":true},{"year":2024,"month":6,"date":18,"utc":true},{"year":2024,"month":7,"date":2,"utc":true},{"year":2024,"month":7,"date":16,"utc":true},{"year":2024,"month":7,"date":30,"utc":true},{"year":2024,"month":8,"date":13,"utc":true},{"year":2024,"month":8,"date":27,"utc":true},{"year":2024,"month":9,"date":10,"utc":true}],
                          "format": "%Y/%m/%d", "labelAngle": -90, "domain": false, "ticks": false, "labelFontSize": 8.5, "labelPadding": 5, "labelOverlap": false, "labelFlush": false, "labelBound": false}},
           "y": {"field": "b", "type": "quantitative", "title": null, "axis": {"orient": "right", "values": [1.0,1.2,1.4,1.6,1.8,2.0,2.2,2.4], "format": ".2f", "labelOverlap": false}},
           "color": {"datum": "DR007", "type": "nominal"}
         }}
      ]}
    ]
  },
  {"width": 88, "height": 1, "data": {"values": [{"t": ""}]}, "mark": {"type": "text", "fontSize": 0}, "encoding": {"text": {"field": "t"}}},
  {
    "width": 266, "height": 131,
    "resolve": {"scale": {"y": "independent", "color": "independent"}},
    "layer": [
      {"layer": [
        {"data": {"name": "f4"}, "mark": {"type": "area", "clip": true},
         "encoding": {
           "x": {"field": "d", "type": "temporal", "title": null,
                 "scale": {"type": "utc", "domain": [{"year":2024,"month":1,"date":3,"utc":true},{"year":2024,"month":9,"date":11,"utc":true}], "nice": false},
                 "axis": {"values": [{"year":2024,"month":1,"date":3,"utc":true},{"year":2024,"month":1,"date":17,"utc":true},{"year":2024,"month":1,"date":31,"utc":true},{"year":2024,"month":2,"date":14,"utc":true},{"year":2024,"month":2,"date":28,"utc":true},{"year":2024,"month":3,"date":13,"utc":true},{"year":2024,"month":3,"date":27,"utc":true},{"year":2024,"month":4,"date":10,"utc":true},{"year":2024,"month":4,"date":24,"utc":true},{"year":2024,"month":5,"date":8,"utc":true},{"year":2024,"month":5,"date":22,"utc":true},{"year":2024,"month":6,"date":5,"utc":true},{"year":2024,"month":6,"date":19,"utc":true},{"year":2024,"month":7,"date":3,"utc":true},{"year":2024,"month":7,"date":17,"utc":true},{"year":2024,"month":7,"date":31,"utc":true},{"year":2024,"month":8,"date":14,"utc":true},{"year":2024,"month":8,"date":28,"utc":true},{"year":2024,"month":9,"date":11,"utc":true}],
                          "format": "%Y/%m/%d", "labelAngle": -90, "domain": false, "ticks": false, "labelFontSize": 8.5, "labelPadding": 5, "labelOverlap": false, "labelFlush": false, "labelBound": false}},
           "y": {"field": "sp", "type": "quantitative", "title": null, "scale": {"domain": [-65, -20], "nice": false, "zero": false}, "axis": {"orient": "left", "values": [-65,-60,-55,-50,-45,-40,-35,-30,-25,-20], "labelOverlap": false}},
           "y2": {"datum": 0},
           "color": {"datum": "利差（左）", "type": "nominal", "scale": {"range": ["#F0CFCF"]},
                     "legend": {"orient": "none", "legendX": 36, "legendY": -19, "direction": "horizontal", "title": null, "symbolType": "M-1,-0.38L1,-0.38L1,0.38L-1,0.38Z", "symbolSize": 289, "symbolStrokeWidth": 0, "labelOffset": 3}}
         }}
      ]},
      {"layer": [
        {"data": {"name": "f4"}, "mark": {"type": "line", "strokeWidth": 1.8},
         "encoding": {
           "x": {"field": "d", "type": "temporal", "title": null,
                 "axis": {"values": [{"year":2024,"month":1,"date":3,"utc":true},{"year":2024,"month":1,"date":17,"utc":true},{"year":2024,"month":1,"date":31,"utc":true},{"year":2024,"month":2,"date":14,"utc":true},{"year":2024,"month":2,"date":28,"utc":true},{"year":2024,"month":3,"date":13,"utc":true},{"year":2024,"month":3,"date":27,"utc":true},{"year":2024,"month":4,"date":10,"utc":true},{"year":2024,"month":4,"date":24,"utc":true},{"year":2024,"month":5,"date":8,"utc":true},{"year":2024,"month":5,"date":22,"utc":true},{"year":2024,"month":6,"date":5,"utc":true},{"year":2024,"month":6,"date":19,"utc":true},{"year":2024,"month":7,"date":3,"utc":true},{"year":2024,"month":7,"date":17,"utc":true},{"year":2024,"month":7,"date":31,"utc":true},{"year":2024,"month":8,"date":14,"utc":true},{"year":2024,"month":8,"date":28,"utc":true},{"year":2024,"month":9,"date":11,"utc":true}],
                          "format": "%Y/%m/%d", "labelAngle": -90, "domain": false, "ticks": false, "labelFontSize": 8.5, "labelPadding": 5, "labelOverlap": false, "labelFlush": false, "labelBound": false}},
           "y": {"field": "a", "type": "quantitative", "title": null, "scale": {"domain": [1.0, 2.6], "nice": false, "zero": false}, "axis": {"orient": "right", "values": [1.0,1.2,1.4,1.6,1.8,2.0,2.2,2.4,2.6], "format": ".2f", "labelOverlap": false}},
           "color": {"datum": "1Y国债", "type": "nominal", "scale": {"domain": ["1Y国债","1Y存单"], "range": ["#C00000","#404040"]},
                     "legend": {"orient": "none", "legendX": 121, "legendY": -20, "direction": "horizontal", "title": null, "symbolType": "stroke", "symbolSize": 324, "symbolStrokeWidth": 2, "columnPadding": 20, "labelOffset": 3}}
         }},
        {"data": {"name": "f4"}, "mark": {"type": "line", "strokeWidth": 1.5},
         "encoding": {
           "x": {"field": "d", "type": "temporal", "title": null,
                 "axis": {"values": [{"year":2024,"month":1,"date":3,"utc":true},{"year":2024,"month":1,"date":17,"utc":true},{"year":2024,"month":1,"date":31,"utc":true},{"year":2024,"month":2,"date":14,"utc":true},{"year":2024,"month":2,"date":28,"utc":true},{"year":2024,"month":3,"date":13,"utc":true},{"year":2024,"month":3,"date":27,"utc":true},{"year":2024,"month":4,"date":10,"utc":true},{"year":2024,"month":4,"date":24,"utc":true},{"year":2024,"month":5,"date":8,"utc":true},{"year":2024,"month":5,"date":22,"utc":true},{"year":2024,"month":6,"date":5,"utc":true},{"year":2024,"month":6,"date":19,"utc":true},{"year":2024,"month":7,"date":3,"utc":true},{"year":2024,"month":7,"date":17,"utc":true},{"year":2024,"month":7,"date":31,"utc":true},{"year":2024,"month":8,"date":14,"utc":true},{"year":2024,"month":8,"date":28,"utc":true},{"year":2024,"month":9,"date":11,"utc":true}],
                          "format": "%Y/%m/%d", "labelAngle": -90, "domain": false, "ticks": false, "labelFontSize": 8.5, "labelPadding": 5, "labelOverlap": false, "labelFlush": false, "labelBound": false}},
           "y": {"field": "b", "type": "quantitative", "title": null, "axis": {"orient": "right", "values": [1.0,1.2,1.4,1.6,1.8,2.0,2.2,2.4,2.6], "format": ".2f", "labelOverlap": false}},
           "color": {"datum": "1Y存单", "type": "nominal"}
         }}
      ]}
    ]
  },

  {
    "width": 84, "height": 533,
    "layer": [
      {"data": {"values": [{}]}, "mark": {"type": "rule", "color": "#7F7F7F", "strokeWidth": 0.8}, "encoding": {"x": {"value": 48}, "x2": {"value": 392}, "y": {"value": 58}}},
      {"data": {"values": [{}]}, "mark": {"type": "rule", "color": "#7F7F7F", "strokeWidth": 0.8}, "encoding": {"x": {"value": 410}, "x2": {"value": 755}, "y": {"value": 58}}},
      {"data": {"values": [{"t": "资料来源：wind，民生证券研究院"}]}, "mark": {"type": "text", "align": "left", "baseline": "middle", "fontSize": 9.5, "color": "#404040"}, "encoding": {"text": {"field": "t"}, "x": {"value": 57}, "y": {"value": 66}}},
      {"data": {"values": [{"t": "资料来源：wind，民生证券研究院"}]}, "mark": {"type": "text", "align": "left", "baseline": "middle", "fontSize": 9.5, "color": "#404040"}, "encoding": {"text": {"field": "t"}, "x": {"value": 414}, "y": {"value": 66}}},
      {"data": {"values": [{"t": "8 月央行“买短卖长”，对此如何理解？"}]}, "mark": {"type": "text", "align": "left", "baseline": "middle", "fontSize": 13.8, "fontWeight": "bold", "color": "#262626"}, "encoding": {"text": {"field": "t"}, "x": {"value": 77}, "y": {"value": 141}}},
      {"data": {"values": [{"t": "9 月 5 日，央行新闻发布会当中，明确买卖国债主要定位于基础货币投放和"}]}, "mark": {"type": "text", "align": "left", "baseline": "middle", "fontSize": 13.8, "fontWeight": "bold", "color": "#262626"}, "encoding": {"text": {"field": "t"}, "x": {"value": 77}, "y": {"value": 171}}},
      {"data": {"values": [{"t": "流动性管理："}]}, "mark": {"type": "text", "align": "left", "baseline": "middle", "fontSize": 13.8, "fontWeight": "bold", "color": "#262626"}, "encoding": {"text": {"field": "t"}, "x": {"value": 48}, "y": {"value": 195}}},
      {"data": {"values": [{"t": "“8 月全月买短卖长、净买入国债 1000 亿元。央行买卖国债主要定位于基础货币投放"}]}, "mark": {"type": "text", "align": "left", "baseline": "middle", "fontSize": 12.2, "fontStyle": "italic", "color": "#404040"}, "encoding": {"text": {"field": "t"}, "x": {"value": 80}, "y": {"value": 224}}},
      {"data": {"values": [{"t": ["和流动性管理，既可买入也可卖出，并通过与其他工具灵活搭配，提升短中长期流动性管理", "的科学性和精准性。同时，我们也将结合宏观形势和政策调控需要，创新实施好结构性货币", "政策工具，持续提升货币政策效率。”"]}]}, "mark": {"type": "text", "align": "left", "baseline": "middle", "fontSize": 11.9, "fontStyle": "italic", "color": "#404040", "lineHeight": 22.7}, "encoding": {"text": {"field": "t"}, "x": {"value": 48}, "y": {"value": 246.7}}},
      {"data": {"values": [{}]}, "mark": {"type": "rule", "color": "#595959", "strokeWidth": 1}, "encoding": {"x": {"value": 76}, "x2": {"value": 528}, "y": {"value": 234}}},
      {"data": {"values": [{}]}, "mark": {"type": "rule", "color": "#595959", "strokeWidth": 1}, "encoding": {"x": {"value": 48}, "x2": {"value": 528}, "y": {"value": 256.7}}},
      {"data": {"values": [{}]}, "mark": {"type": "rule", "color": "#595959", "strokeWidth": 1}, "encoding": {"x": {"value": 48}, "x2": {"value": 528}, "y": {"value": 279.4}}},
      {"data": {"values": [{}]}, "mark": {"type": "rule", "color": "#595959", "strokeWidth": 1}, "encoding": {"x": {"value": 48}, "x2": {"value": 248}, "y": {"value": 302.1}}},
      {"data": {"values": [{"t": "可见，央行买卖国债，主要有两方面作用："}]}, "mark": {"type": "text", "align": "left", "baseline": "middle", "fontSize": 13.8, "fontWeight": "bold", "color": "#262626"}, "encoding": {"text": {"field": "t"}, "x": {"value": 77}, "y": {"value": 321}}},
      {"data": {"values": [{"t": "一是释放流动性，可以起到降准、置换 MLF 的作用。"}]}, "mark": {"type": "text", "align": "left", "baseline": "middle", "fontSize": 13.6, "fontWeight": "bold", "color": "#262626"}, "encoding": {"text": {"field": "t"}, "x": {"value": 77}, "y": {"value": 351}}},
      {"data": {"values": [{"t": "央行在 9 月 5 日的新闻"}]}, "mark": {"type": "text", "align": "left", "baseline": "middle", "fontSize": 13.3, "color": "#404040"}, "encoding": {"text": {"field": "t"}, "x": {"value": 393}, "y": {"value": 351}}},
      {"data": {"values": [{"t": ["发布会当中，表示将综合运用多种工具，保持银行体系流动性合理充裕，这当中便", "包括国债买卖工具。8 月 MLF 净回笼 1010 亿元，央行国债净买入 1000 亿元，", "对应释放流动性实现基本对冲，一定程度代替降准完成对 MLF 的置换。"]}]}, "mark": {"type": "text", "align": "left", "baseline": "middle", "fontSize": 13.3, "color": "#404040", "lineHeight": 23.5}, "encoding": {"text": {"field": "t"}, "x": {"value": 48}, "y": {"value": 373}}},
      {"data": {"values": [{}]}, "mark": {"type": "rule", "color": "#A6A6A6", "strokeWidth": 1.5}, "encoding": {"x": {"value": 48}, "x2": {"value": 755}, "y": {"value": 480}}},
      {"data": {"values": [{"t": "本公司具备证券投资咨询业务资格，请务必阅读最后一页免责声明"}]}, "mark": {"type": "text", "align": "left", "baseline": "middle", "fontSize": 10.5, "color": "#404040"}, "encoding": {"text": {"field": "t"}, "x": {"value": 48}, "y": {"value": 493}}},
      {"data": {"values": [{"t": "证券研究报告"}]}, "mark": {"type": "text", "align": "left", "baseline": "middle", "fontSize": 10.5, "color": "#404040"}, "encoding": {"text": {"field": "t"}, "x": {"value": 628}, "y": {"value": 493}}},
      {"data": {"values": [{"t": "4"}]}, "mark": {"type": "text", "align": "left", "baseline": "middle", "fontSize": 11, "fontWeight": "bold", "color": "#404040"}, "encoding": {"text": {"field": "t"}, "x": {"value": 743}, "y": {"value": 493}}}
    ]
  },
  {"width": 1, "height": 1, "data": {"values": [{"t": ""}]}, "mark": {"type": "text", "fontSize": 0}, "encoding": {"text": {"field": "t"}}},
  {"width": 1, "height": 1, "data": {"values": [{"t": ""}]}, "mark": {"type": "text", "fontSize": 0}, "encoding": {"text": {"field": "t"}}},
  {"width": 1, "height": 1, "data": {"values": [{"t": ""}]}, "mark": {"type": "text", "fontSize": 0}, "encoding": {"text": {"field": "t"}}}
]
}
